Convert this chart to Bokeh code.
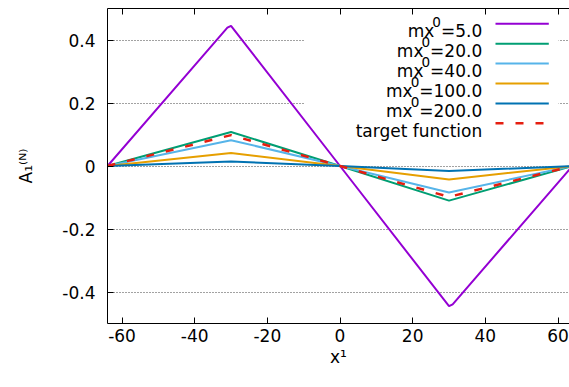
from bokeh.plotting import figure
from bokeh.models import Range1d, FixedTicker, LinearAxis, BoxAnnotation, Label, Arrow
from bokeh.embed import file_html
from bokeh.resources import INLINE

# ---- data ----
x_nodes = [-64, -30, 0, 30, 64]
x_mx5 = [-64, -31, -30, 0, 30, 31, 64]
y_mx5 = [0, 0.439, 0.445, 0, -0.445, -0.439, 0]
y_mx20 = [0, 0.108, 0, -0.110, 0]
y_mx40 = [0, 0.082, 0, -0.084, 0]
y_mx100 = [0, 0.041, 0, -0.043, 0]
y_mx200 = [0, 0.014, 0, -0.016, 0]
y_target = [0, 0.098, 0, -0.098, 0]

mx_values = ["5.0", "20.0", "40.0", "100.0", "200.0"]
target_label = "target function"
colors = ["#9400d3", "#009e73", "#56b4e9", "#e69f00", "#0072b2", "#e51e10"]

xticks = [-60, -40, -20, 0, 20, 40, 60]
xtick_labels = ["-60", "-40", "-20", "0", "20", "40", "60"]
yticks = [-0.4, -0.2, 0, 0.2, 0.4]
ytick_labels = ["-0.4", "-0.2", "0", "0.2", "0.4"]
x_title = "x\u00b9"
y_title = "A\u2081\u207d\u1d3a\u207e"

FONT = "DejaVu Sans"
SIZE = 17.0
SUB = SIZE * 0.8
FS = "%gpx" % SIZE
FS_SMALL = "%gpx" % SUB

# DejaVu Sans advance widths (em) used to chain the superscript pieces
ADV = {"x": 0.592, "m": 0.974, "=": 0.838, ".": 0.318}
for d in "0123456789":
    ADV[d] = 0.636

def tw(s, size):
    return sum(ADV[c] for c in s) * size

p = figure(frame_width=462, frame_height=315,
           x_range=Range1d(-64, 63.16), y_range=Range1d(-0.5, 0.5),
           output_backend="svg", toolbar_location=None,
           min_border_left=107, min_border_right=0, min_border_top=8,
           min_border_bottom=56)
p.outline_line_color = None
p.background_fill_color = "white"
p.border_fill_color = "white"

# grid: only horizontal dotted lines
p.xgrid.visible = False
p.ygrid.ticker = FixedTicker(ticks=yticks)
p.ygrid.grid_line_color = "#444444"
p.ygrid.grid_line_dash = "1 2"
p.ygrid.grid_line_width = 1
p.ygrid.level = "image"

def style_axis(ax):
    ax.axis_line_color = "black"
    ax.axis_line_width = 1
    ax.major_tick_line_color = "black"
    ax.major_tick_in = 6
    ax.major_tick_out = 0
    ax.minor_tick_in = 0
    ax.minor_tick_out = 0
    ax.major_label_text_font = FONT
    ax.major_label_text_font_size = FS
    ax.major_label_text_color = "black"
    ax.axis_label_text_font = FONT
    ax.axis_label_text_font_size = FS
    ax.axis_label_text_font_style = "normal"
    ax.axis_label_text_color = "black"

xb = p.below[0]
yl = p.left[0]
style_axis(xb)
style_axis(yl)
xb.ticker = FixedTicker(ticks=xticks)
xb.major_label_overrides = dict(zip(xticks, xtick_labels))
xb.major_label_standoff = 5
xb.axis_label = x_title
xb.axis_label_standoff = 2
yl.ticker = FixedTicker(ticks=yticks)
yl.major_label_overrides = dict(zip(yticks, ytick_labels))
yl.major_label_standoff = 12
yl.axis_label = y_title
yl.axis_label_standoff = 23

# top border with mirrored ticks (no labels)
top = LinearAxis(ticker=FixedTicker(ticks=xticks))
style_axis(top)
top.major_label_text_font_size = "0px"
top.major_label_text_color = None
top.major_label_standoff = 0
p.add_layout(top, "above")

# opaque key area hides the grid behind the key
p.add_layout(BoxAnnotation(left=197, right=451, bottom=183, top=320,
                           left_units="screen", right_units="screen",
                           bottom_units="screen", top_units="screen",
                           fill_color="white", fill_alpha=1.0, line_color=None,
                           level="underlay"))

# curves
p.line(x_mx5, y_mx5, line_color=colors[0], line_width=2)
p.line(x_nodes, y_mx20, line_color=colors[1], line_width=2)
p.line(x_nodes, y_mx40, line_color=colors[2], line_width=2)
p.line(x_nodes, y_mx100, line_color=colors[3], line_width=2)
p.line(x_nodes, y_mx200, line_color=colors[4], line_width=2)
p.line(x_nodes, y_target, line_color=colors[5], line_width=2.5, line_dash="8 12")

def lab(text, x, y, size=FS, align="left"):
    p.add_layout(Label(x=x, y=y, x_units="screen", y_units="screen", text=text,
                       text_align=align, text_baseline="alphabetic",
                       text_font=FONT, text_font_size=size, text_color="black"))

# key (text on the left, sample on the right, as in gnuplot)
KEY_X = 374.7
for i, col in enumerate(colors):
    row_y = 299.7 - 19.9 * i
    base_y = row_y - 7.4
    if i < len(mx_values):
        tail = "=" + mx_values[i]
        w_tail = tw(tail, SIZE)
        lab(tail, KEY_X, base_y, align="right")
        lab("0", KEY_X - w_tail, base_y + 9, size=FS_SMALL, align="right")
        lab("mx", KEY_X - w_tail - tw("0", SUB) + 2, base_y, align="right")
    else:
        lab(target_label, KEY_X, base_y, align="right")
    p.add_layout(Arrow(end=None, x_start=388, y_start=row_y, x_end=441.3, y_end=row_y,
                       start_units="screen", end_units="screen",
                       line_color=col, line_width=2.5 if i == 5 else 2,
                       line_dash="8 12" if i == 5 else "solid"))

open("out.html", "w").write(file_html(p, INLINE))
